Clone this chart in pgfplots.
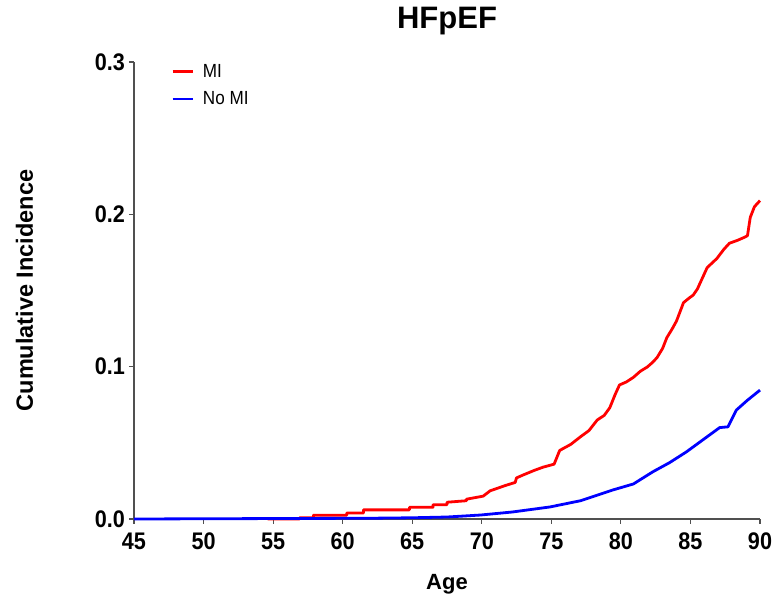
\documentclass[border=0pt]{standalone}
\usepackage{fontspec}
\setmainfont{Liberation Sans}
\newfontfamily\condfont[FakeStretch=0.9]{Liberation Sans}
\usepackage{pgfplots}
\pgfplotsset{compat=1.18}
\definecolor{axgray}{RGB}{80,80,80}
\definecolor{mired}{RGB}{255,0,0}
\definecolor{noblue}{RGB}{0,0,255}
\begin{document}
\begin{tikzpicture}
\begin{axis}[
  at={(0,0)}, anchor=south west,
  scale only axis, width=626pt, height=457pt,
  xmin=45, xmax=90, ymin=0, ymax=0.3,
  axis x line*=bottom, axis y line*=left,
  axis line style={axgray, line width=1.2pt},
  x axis line style={-}, y axis line style={-},
  tick style={axgray, line width=1.2pt},
  tick align=outside, major tick length=5pt,
  xtick={45,50,55,60,65,70,75,80,85,90},
  xticklabels={45,50,55,60,65,70,75,80,85,90},
  ytick={0,0.1,0.2,0.3},
  yticklabels={0.0,0.1,0.2,0.3},
  xticklabel style={font=\condfont\fontsize{24}{28}\selectfont\bfseries, anchor=north, inner sep=0pt, yshift=-9pt},
  yticklabel style={font=\condfont\fontsize{24}{28}\selectfont\bfseries, anchor=east, inner sep=0pt, xshift=-4pt},
  title={HFpEF},
  title style={font=\fontsize{31}{36}\selectfont\bfseries, at={(axis description cs:0.5,1)}, anchor=base, inner sep=0pt, yshift=27pt},
  xlabel={Age},
  xlabel style={font=\fontsize{22}{26}\selectfont\bfseries, at={(axis description cs:0.5,0)}, anchor=base, inner sep=0pt, yshift=-71pt},
  ylabel={Cumulative Incidence},
  ylabel style={font=\fontsize{23.5}{28}\selectfont\bfseries, at={([xshift=-101pt]axis description cs:0,0.5)}, anchor=base, inner sep=0pt},
  clip=false,
  legend style={draw=none, fill=none, at={(axis description cs:0.059,0.998)}, anchor=north west, inner sep=0pt, row sep=11pt, font=\condfont\fontsize{19}{22}\selectfont, nodes={inner sep=1pt}},
  legend cell align=left,
  legend image code/.code={\draw[#1] (0pt,0pt) -- (20pt,0pt); \path (28pt,0pt);},
]
\addplot[mired, line width=2.8pt, line join=round] coordinates {
(54.6,0) (56.9,0) (56.9,0.0008) (57.9,0.0008) (57.9,0.0025) (60.3,0.0025) (60.3,0.004) (61.5,0.004) (61.5,0.006) (64.8,0.006) (64.8,0.0077) (66.5,0.0077) (66.5,0.0094) (67.5,0.0094) (67.5,0.011) (68.9,0.012) (68.9,0.013) (70.1,0.015) (70.6,0.0185) (71.7,0.022) (72.4,0.024) (72.5,0.027) (73,0.029) (73.8,0.032) (74.4,0.034) (75.2,0.036) (75.6,0.045) (76.4,0.049) (77.1,0.054) (77.7,0.058) (78.3,0.065) (78.8,0.068) (79.2,0.073) (79.6,0.082) (79.9,0.088) (80.4,0.090) (80.9,0.093) (81.4,0.097) (81.9,0.0998) (82.3,0.103) (82.6,0.106) (83.0,0.112) (83.3,0.119) (83.7,0.125) (84.0,0.130) (84.5,0.142) (84.9,0.145) (85.2,0.147) (85.5,0.151) (85.8,0.157) (86.2,0.165) (86.9,0.171) (87.4,0.177) (87.8,0.181) (88.4,0.183) (88.9,0.185) (89.1,0.186) (89.3,0.198) (89.6,0.205) (90,0.209)
};
\addlegendentry{MI}
\addplot[noblue, line width=2.8pt, line join=round] coordinates {
(45,0) (62,0.0005) (65,0.0008) (67.5,0.0013) (69.9,0.0026) (72.2,0.0046) (74.9,0.0079) (77.1,0.012) (79.4,0.019) (80.9,0.023) (82.3,0.031) (83.5,0.037) (84.7,0.044) (85.9,0.052) (87.1,0.060) (87.7,0.0605) (88.3,0.0715) (89.1,0.078) (90,0.0846)
};
\addlegendentry{No MI}
\end{axis}
\pgfresetboundingbox
\path[use as bounding box] (-134pt,-82pt) rectangle (644pt,519pt);
\end{tikzpicture}
\end{document}
